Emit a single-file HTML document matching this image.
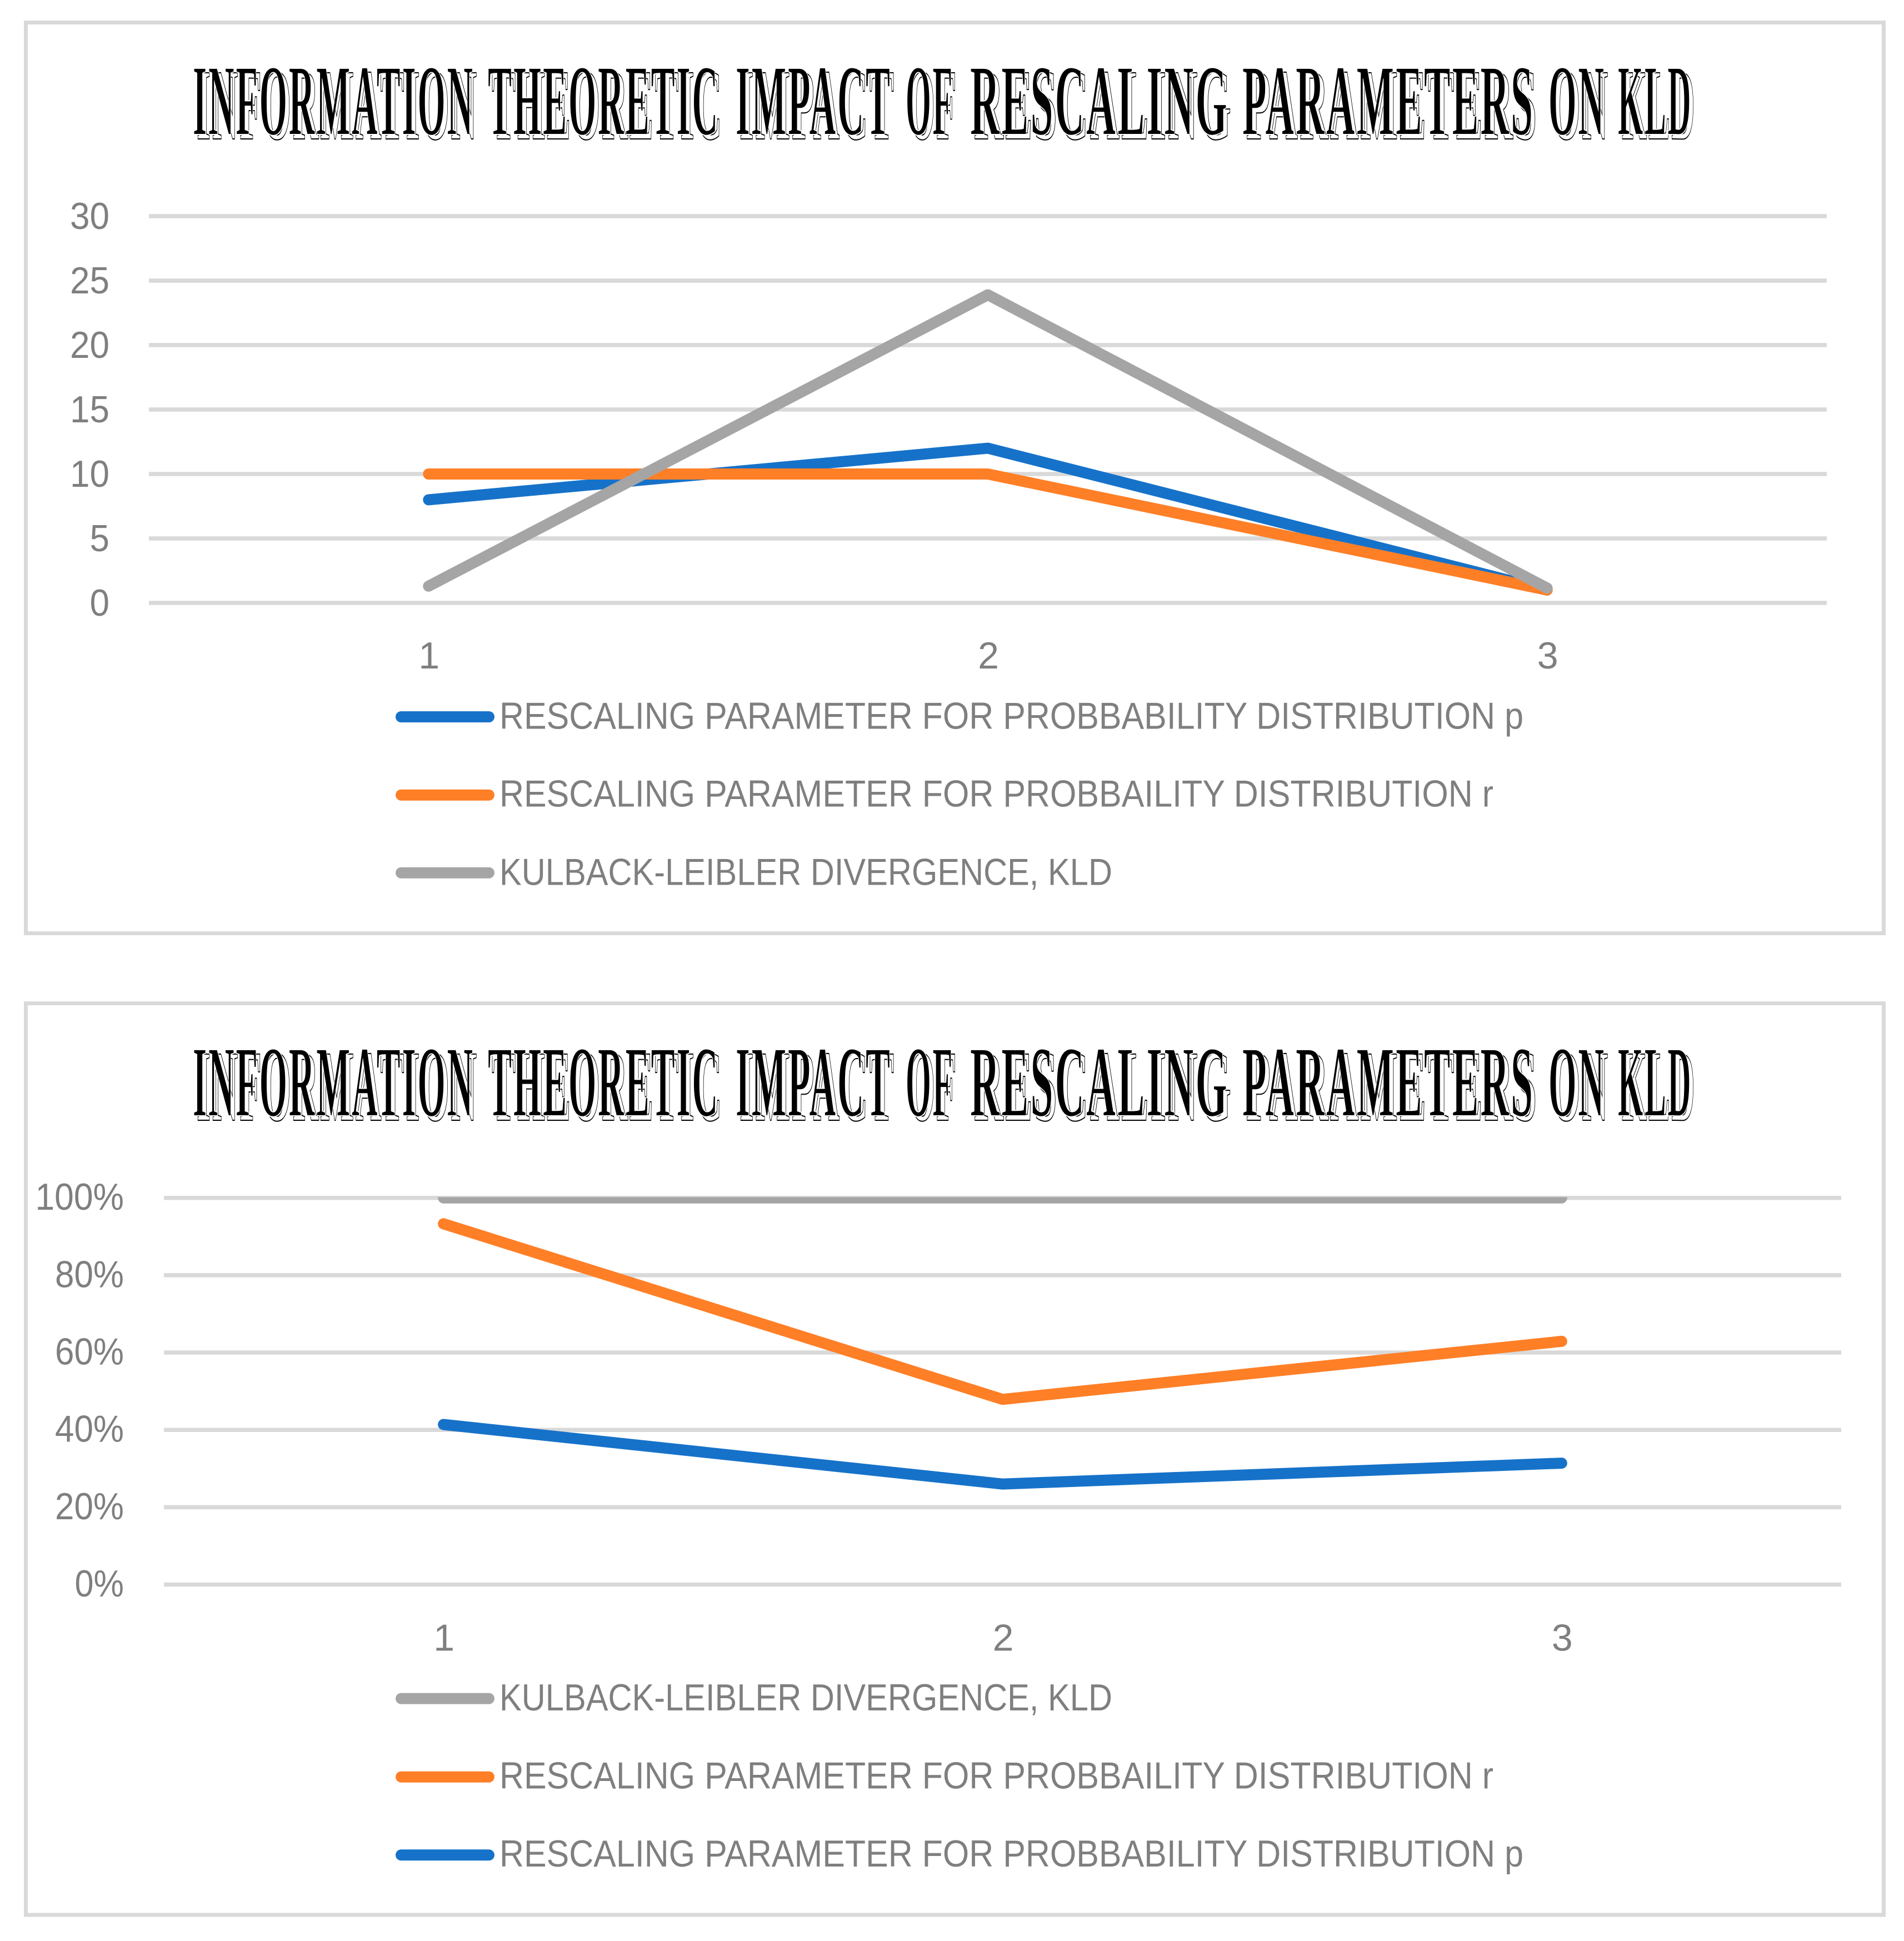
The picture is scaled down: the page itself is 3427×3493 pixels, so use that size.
<!DOCTYPE html>
<html lang="en">
<head>
<meta charset="utf-8">
<title>Information theoretic impact of rescaling parameters on KLD</title>
<style>
html,body{margin:0;padding:0;background:#fff;}
svg{display:block;}
.frame{fill:#fff;stroke:#d9d9d9;stroke-width:7;}
.tm{font-family:"Liberation Serif",serif;font-weight:700;font-size:182px;fill:#000;stroke:#fff;stroke-width:2;letter-spacing:8px;}
.ts{font-family:"Liberation Serif",serif;font-weight:700;font-size:182px;fill:#fff;stroke:#000;stroke-width:2;letter-spacing:8px;}
.label{font-family:"Liberation Sans",sans-serif;font-size:68px;fill:#7f7f7f;}
.leg{stroke-width:20;stroke-linecap:round;fill:none;}
</style>
</head>
<body>
<svg id="root" xmlns="http://www.w3.org/2000/svg" width="3427" height="3493" viewBox="0 0 3427 3493">
  <rect width="3427" height="3493" fill="#fff"/>

  <g id="chart-a">
    <rect class="frame" x="46.5" y="40.5" width="3344" height="1639"/>
    <g aria-hidden="true" lengthAdjust="spacingAndGlyphs">
      <text class="ts" x="354" y="250" textLength="507" lengthAdjust="spacingAndGlyphs">INFORMATION</text>
      <text class="ts" x="885" y="250" textLength="417" lengthAdjust="spacingAndGlyphs">THEORETIC</text>
      <text class="ts" x="1331" y="250" textLength="281" lengthAdjust="spacingAndGlyphs">IMPACT</text>
      <text class="ts" x="1637" y="250" textLength="87" lengthAdjust="spacingAndGlyphs">OF</text>
      <text class="ts" x="1753" y="250" textLength="466" lengthAdjust="spacingAndGlyphs">RESCALING</text>
      <text class="ts" x="2243" y="250" textLength="526" lengthAdjust="spacingAndGlyphs">PARAMETERS</text>
      <text class="ts" x="2794" y="250" textLength="103" lengthAdjust="spacingAndGlyphs">ON</text>
      <text class="ts" x="2919" y="250" textLength="134" lengthAdjust="spacingAndGlyphs">KLD</text>
    </g>
    <g>
      <text class="tm" x="347" y="242" textLength="507" lengthAdjust="spacingAndGlyphs">INFORMATION</text>
      <text class="tm" x="878" y="242" textLength="417" lengthAdjust="spacingAndGlyphs">THEORETIC</text>
      <text class="tm" x="1324" y="242" textLength="281" lengthAdjust="spacingAndGlyphs">IMPACT</text>
      <text class="tm" x="1630" y="242" textLength="87" lengthAdjust="spacingAndGlyphs">OF</text>
      <text class="tm" x="1746" y="242" textLength="466" lengthAdjust="spacingAndGlyphs">RESCALING</text>
      <text class="tm" x="2236" y="242" textLength="526" lengthAdjust="spacingAndGlyphs">PARAMETERS</text>
      <text class="tm" x="2787" y="242" textLength="103" lengthAdjust="spacingAndGlyphs">ON</text>
      <text class="tm" x="2912" y="242" textLength="134" lengthAdjust="spacingAndGlyphs">KLD</text>
    </g>
    <g id="plot-a"></g>
    <g>
      <line class="leg" x1="722" x2="880" y1="1290" y2="1290" stroke="#1672c9"/>
      <text class="label" x="899" y="1311.5" textLength="1843" lengthAdjust="spacingAndGlyphs">RESCALING PARAMETER FOR PROBBABILITY DISTRIBUTION p</text>
      <line class="leg" x1="722" x2="880" y1="1430.7" y2="1430.7" stroke="#ff7f27"/>
      <text class="label" x="899" y="1451.7" textLength="1789" lengthAdjust="spacingAndGlyphs">RESCALING PARAMETER FOR PROBBAILITY DISTRIBUTION r</text>
      <line class="leg" x1="722" x2="880" y1="1570.7" y2="1570.7" stroke="#a5a5a5"/>
      <text class="label" x="899" y="1592.5" textLength="1103" lengthAdjust="spacingAndGlyphs">KULBACK-LEIBLER DIVERGENCE, KLD</text>
    </g>
  </g>

  <g id="chart-b">
    <rect class="frame" x="46.5" y="1805.6" width="3344" height="1640.4"/>
    <g aria-hidden="true">
      <text class="ts" x="354" y="2016" textLength="507" lengthAdjust="spacingAndGlyphs">INFORMATION</text>
      <text class="ts" x="885" y="2016" textLength="417" lengthAdjust="spacingAndGlyphs">THEORETIC</text>
      <text class="ts" x="1331" y="2016" textLength="281" lengthAdjust="spacingAndGlyphs">IMPACT</text>
      <text class="ts" x="1637" y="2016" textLength="87" lengthAdjust="spacingAndGlyphs">OF</text>
      <text class="ts" x="1753" y="2016" textLength="466" lengthAdjust="spacingAndGlyphs">RESCALING</text>
      <text class="ts" x="2243" y="2016" textLength="526" lengthAdjust="spacingAndGlyphs">PARAMETERS</text>
      <text class="ts" x="2794" y="2016" textLength="103" lengthAdjust="spacingAndGlyphs">ON</text>
      <text class="ts" x="2919" y="2016" textLength="134" lengthAdjust="spacingAndGlyphs">KLD</text>
    </g>
    <g>
      <text class="tm" x="347" y="2008" textLength="507" lengthAdjust="spacingAndGlyphs">INFORMATION</text>
      <text class="tm" x="878" y="2008" textLength="417" lengthAdjust="spacingAndGlyphs">THEORETIC</text>
      <text class="tm" x="1324" y="2008" textLength="281" lengthAdjust="spacingAndGlyphs">IMPACT</text>
      <text class="tm" x="1630" y="2008" textLength="87" lengthAdjust="spacingAndGlyphs">OF</text>
      <text class="tm" x="1746" y="2008" textLength="466" lengthAdjust="spacingAndGlyphs">RESCALING</text>
      <text class="tm" x="2236" y="2008" textLength="526" lengthAdjust="spacingAndGlyphs">PARAMETERS</text>
      <text class="tm" x="2787" y="2008" textLength="103" lengthAdjust="spacingAndGlyphs">ON</text>
      <text class="tm" x="2912" y="2008" textLength="134" lengthAdjust="spacingAndGlyphs">KLD</text>
    </g>
    <g id="plot-b"></g>
    <g>
      <line class="leg" x1="722" x2="880" y1="3056.7" y2="3056.7" stroke="#a5a5a5"/>
      <text class="label" x="899" y="3078" textLength="1103" lengthAdjust="spacingAndGlyphs">KULBACK-LEIBLER DIVERGENCE, KLD</text>
      <line class="leg" x1="722" x2="880" y1="3197.7" y2="3197.7" stroke="#ff7f27"/>
      <text class="label" x="899" y="3218.5" textLength="1789" lengthAdjust="spacingAndGlyphs">RESCALING PARAMETER FOR PROBBAILITY DISTRIBUTION r</text>
      <line class="leg" x1="722" x2="880" y1="3338.3" y2="3338.3" stroke="#1672c9"/>
      <text class="label" x="899" y="3359" textLength="1843" lengthAdjust="spacingAndGlyphs">RESCALING PARAMETER FOR PROBBABILITY DISTRIBUTION p</text>
    </g>
  </g>
</svg>

<script>
const categories = ["1", "2", "3"];

const topTickValues = [0, 5, 10, 15, 20, 25, 30];
const topTickLabels = ["0", "5", "10", "15", "20", "25", "30"];
const topP = [8, 12, 1];
const topR = [10, 10, 1];
const topKLD = [1.3, 23.9, 1.15];

const bottomTickValues = [0, 20, 40, 60, 80, 100];
const bottomTickLabels = ["0%", "20%", "40%", "60%", "80%", "100%"];
const bottomP = [41.4, 26, 31.4];
const bottomR = [93.3, 47.9, 62.9];
const bottomKLD = [100, 100, 100];

const NS = "http://www.w3.org/2000/svg";

function drawChart(parent, cfg) {
  const n = categories.length;
  const xScale = function (i) {
    return cfg.left + (cfg.right - cfg.left) * (i + 0.5) / n;
  };
  const yScale = function (v) {
    return cfg.y0 + (cfg.yMax - cfg.y0) * (v - cfg.vMin) / (cfg.vMax - cfg.vMin);
  };

  cfg.ticks.forEach(function (v, i) {
    const grid = document.createElementNS(NS, "line");
    grid.setAttribute("x1", cfg.left);
    grid.setAttribute("x2", cfg.right);
    grid.setAttribute("y1", yScale(v));
    grid.setAttribute("y2", yScale(v));
    grid.setAttribute("stroke", "#d9d9d9");
    grid.setAttribute("stroke-width", "7.5");
    
    
    parent.appendChild(grid);

    const label = cfg.tickLabels[i];
    const hasPct = label.indexOf("%") >= 0;
    const digits = label.replace("%", "").length;
    const width = digits * 35.5 + (hasPct ? 53 : 0);
    const t = document.createElementNS(NS, "text");
    t.setAttribute("class", "label");
    t.setAttribute("x", cfg.tickRight - width);
    t.setAttribute("y", yScale(v) + cfg.tickDy);
    t.setAttribute("textLength", width);
    t.setAttribute("lengthAdjust", "spacingAndGlyphs");
    t.textContent = label;
    
    
    parent.appendChild(t);
  });

  categories.forEach(function (c, i) {
    const t = document.createElementNS(NS, "text");
    t.setAttribute("class", "label");
    t.setAttribute("x", xScale(i) + 1);
    t.setAttribute("y", cfg.xLabelY);
    t.setAttribute("text-anchor", "middle");
    t.textContent = c;
    
    
    parent.appendChild(t);
  });

  const clipId = cfg.id + "-clip";
  const clip = document.createElementNS(NS, "clipPath");
  clip.setAttribute("id", clipId);
  const clipRect = document.createElementNS(NS, "rect");
  clipRect.setAttribute("x", cfg.left);
  clipRect.setAttribute("y", yScale(cfg.vMax) - 1.5);
  clipRect.setAttribute("width", cfg.right - cfg.left);
  clipRect.setAttribute("height", cfg.y0 - yScale(cfg.vMax) + 1.5);
  clip.appendChild(clipRect);
  parent.appendChild(clip);

  const marks = document.createElementNS(NS, "g");
  marks.setAttribute("clip-path", "url(#" + clipId + ")");
  
  
  parent.appendChild(marks);

  cfg.series.forEach(function (s) {
    const pts = s.values.map(function (v, i) {
      return xScale(i) + "," + yScale(v);
    }).join(" ");
    const line = document.createElementNS(NS, "polyline");
    line.setAttribute("points", pts);
    line.setAttribute("fill", "none");
    line.setAttribute("stroke", s.color);
    line.setAttribute("stroke-width", "20");
    line.setAttribute("stroke-linecap", "round");
    line.setAttribute("stroke-linejoin", "round");
    
    
    marks.appendChild(line);
  });
}

drawChart(document.getElementById("plot-a"), {
  id: "a", left: 268, right: 3288, y0: 1085, yMax: 389, vMin: 0, vMax: 30,
  ticks: topTickValues, tickLabels: topTickLabels, tickRight: 197, tickDy: 23, xLabelY: 1203,
  series: [
    { name: "series-line-p", color: "#1672c9", values: topP },
    { name: "series-line-r", color: "#ff7f27", values: topR },
    { name: "series-line-kld", color: "#a5a5a5", values: topKLD }
  ]
});

drawChart(document.getElementById("plot-b"), {
  id: "b", left: 295, right: 3314, y0: 2851.6, yMax: 2155.7, vMin: 0, vMax: 100,
  ticks: bottomTickValues, tickLabels: bottomTickLabels, tickRight: 223, tickDy: 21.5, xLabelY: 2970.7,
  series: [
    { name: "series-line-p", color: "#1672c9", values: bottomP },
    { name: "series-line-r", color: "#ff7f27", values: bottomR },
    { name: "series-line-kld", color: "#a5a5a5", values: bottomKLD }
  ]
});
</script>
</body>
</html>
